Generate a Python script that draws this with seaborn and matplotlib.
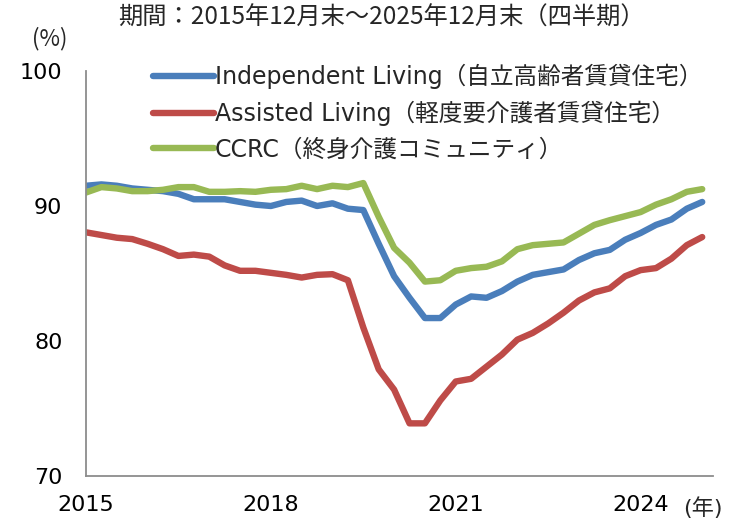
import matplotlib
matplotlib.use("Agg")
import matplotlib.pyplot as plt
import pandas as pd
import seaborn as sns

# quarterly occupancy (%), end of Dec 2015 .. end of Dec 2025
quarters = [str(p) for p in pd.period_range("2015Q4", "2025Q4", freq="Q")]

independent = [91.5, 91.6, 91.5, 91.3, 91.2, 91.1, 90.9, 90.5, 90.5, 90.5,
               90.3, 90.1, 90.0, 90.3, 90.4, 90.0, 90.2, 89.8, 89.7, 87.2,
               84.8, 83.2, 81.7, 81.7, 82.7, 83.3, 83.2, 83.7, 84.4, 84.9,
               85.1, 85.3, 86.0, 86.5, 86.75, 87.5, 88.0, 88.6, 89.0, 89.8,
               90.3]
assisted = [88.05, 87.85, 87.65, 87.55, 87.2, 86.8, 86.3, 86.4, 86.25, 85.6,
            85.2, 85.2, 85.05, 84.9, 84.7, 84.9, 84.95, 84.5, 81.0, 77.9,
            76.4, 73.9, 73.9, 75.6, 77.0, 77.2, 78.1, 79.0, 80.1, 80.6,
            81.3, 82.1, 83.0, 83.6, 83.9, 84.8, 85.25, 85.4, 86.1, 87.1,
            87.7]
ccrc = [91.0, 91.4, 91.3, 91.1, 91.1, 91.2, 91.4, 91.4, 91.05, 91.05,
        91.1, 91.05, 91.2, 91.25, 91.5, 91.25, 91.5, 91.4, 91.7, 89.2,
        86.9, 85.8, 84.4, 84.5, 85.2, 85.4, 85.5, 85.9, 86.8, 87.1,
        87.2, 87.3, 87.95, 88.6, 88.95, 89.25, 89.55, 90.1, 90.5, 91.05,
        91.25]

labels = ["Independent Living（自立高齢者賃貸住宅）",
          "Assisted Living（軽度要介護者賃貸住宅）",
          "CCRC（終身介護コミュニティ）"]
colors = ["#4A7EBB", "#BE4B48", "#98B954"]
tick_quarters = ["2015Q4", "2018Q4", "2021Q4", "2024Q4"]
tick_labels = ["2015", "2018", "2021", "2024"]

df = pd.DataFrame({"quarter": quarters, labels[0]: independent,
                   labels[1]: assisted, labels[2]: ccrc})
df["q"] = range(len(df))
long = df.melt(id_vars=["quarter", "q"], var_name="type", value_name="rate")

sns.set_style("white")
plt.rcParams["font.family"] = ["DejaVu Sans", "Noto Sans CJK JP"]

fig = plt.figure(figsize=(7.41, 5.22), dpi=100)
ax = fig.add_axes([86 / 741, 1 - 476 / 522, 627 / 741, 405 / 522])

sns.lineplot(data=long, x="q", y="rate", hue="type", hue_order=labels,
             palette=colors, linewidth=4.6, legend=False, ax=ax,
             solid_capstyle="round", solid_joinstyle="round")

ax.set_xlim(0, 40.7)
ax.set_ylim(70, 100)
ax.set_yticks([70, 80, 90, 100])
ax.set_xticks([quarters.index(q) for q in tick_quarters])
ax.set_xticklabels(tick_labels)
ax.set_xlabel("")
ax.set_ylabel("")

for side in ["top", "right"]:
    ax.spines[side].set_visible(False)
for side in ["left", "bottom"]:
    ax.spines[side].set_color("#8C8C8C")
    ax.spines[side].set_linewidth(1.3)
ax.tick_params(axis="both", direction="out", length=7, width=1.3,
               color="#8C8C8C", labelsize=16, labelcolor="black")
ax.tick_params(axis="y", pad=10)
ax.tick_params(axis="x", pad=7)

ax.legend(ax.get_lines()[:3], labels, loc="upper left",
          bbox_to_anchor=(153 / 741, 1 - 64 / 522),
          bbox_transform=fig.transFigure, frameon=False, fontsize=17,
          handlelength=2.58, handletextpad=0.05, borderpad=0,
          borderaxespad=0, labelspacing=0.48)

jp = ["Noto Sans CJK JP", "DejaVu Sans"]
fig.text(381 / 741, 1 - 18 / 522, "期間：2015年12月末～2025年12月末（四半期）",
         ha="center", va="center", fontsize=17.5, family=jp)
fig.text(50 / 741, 1 - 39 / 522, "(%)", ha="center", va="center",
         fontsize=16, family=jp)
fig.text(703 / 741, 1 - 508 / 522, "(年)", ha="center", va="center",
         fontsize=16)

fig.savefig("out.png", dpi=100)
